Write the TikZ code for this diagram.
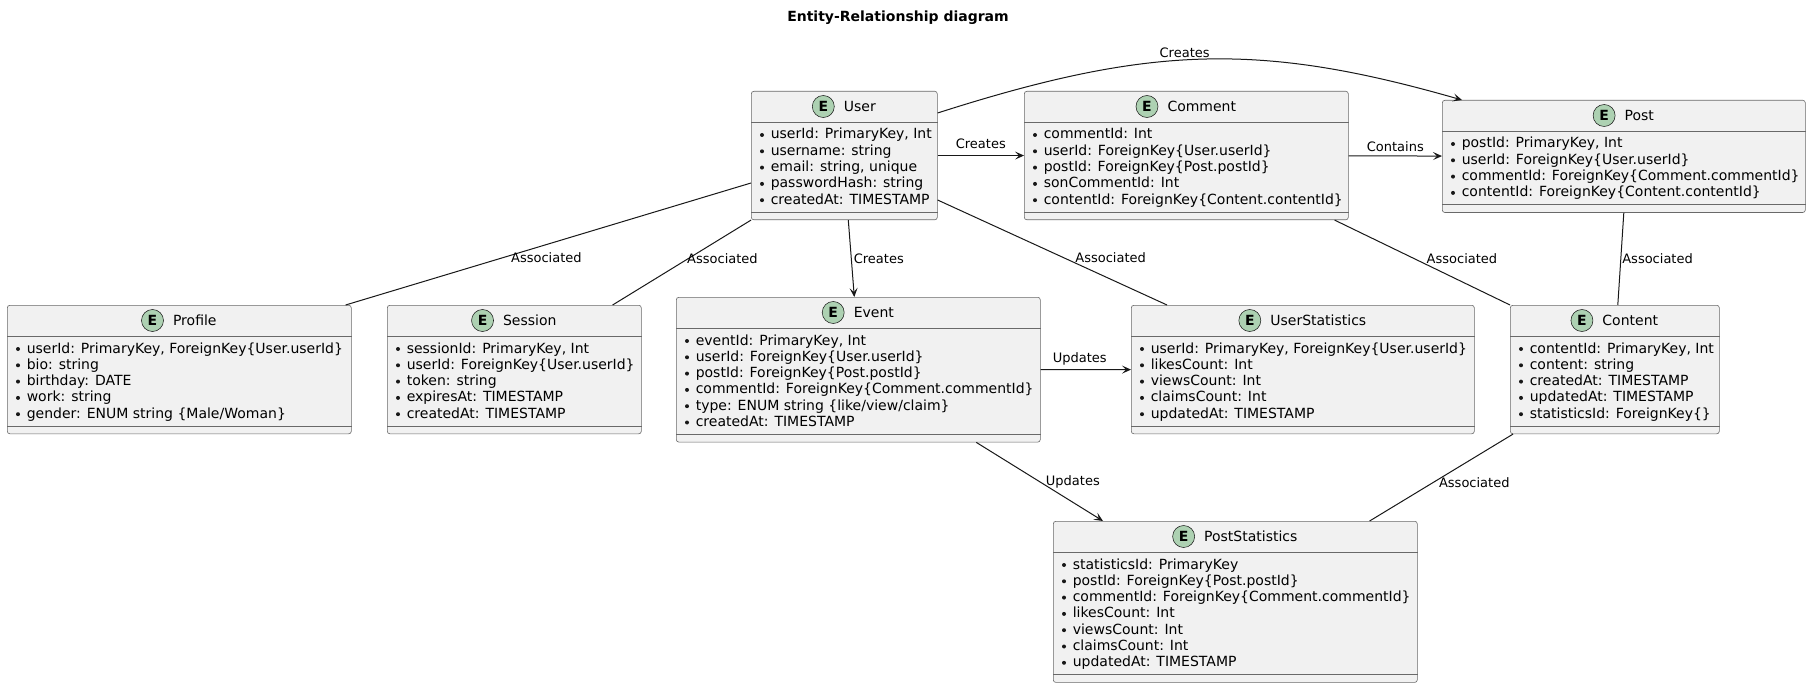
\documentclass[tikz,border=0pt]{standalone}
\usepackage{fontspec}
\setmainfont{DejaVu Sans}
\usetikzlibrary{calc, positioning, arrows.meta}

\definecolor{entfill}{HTML}{F1F1F1}
\definecolor{ink}{HTML}{181818}
\definecolor{entgreen}{HTML}{ADD1B2}

\tikzset{
	entbox/.style={draw=ink!65, fill=entfill, line width=.45pt, rounded corners=1.9pt, inner sep=0pt},
	entline/.style={draw=ink!65, line width=.45pt},
	entcirc/.style={circle, draw=ink, fill=entgreen, line width=.4pt, minimum size=16.5pt, inner sep=0pt, font=\fontsize{10.5}{12}\selectfont\bfseries},
	enttitle/.style={inner sep=0pt, font=\fontsize{10.5}{12}\selectfont},
	entfield/.style={inner sep=0pt, font=\fontsize{10.5}{12.2}\selectfont},
	rel/.style={draw=ink, line width=.75pt},
	lbl/.style={inner sep=0pt, font=\fontsize{9.75}{11}\selectfont}
}

% name, left, top, width, rows, title, fields  (all in px)
\newcommand{\entity}[7]{%
	\node[entbox, anchor=north west, minimum width=#4*0.75pt,
		minimum height=(47+16.3*#5)*0.75pt] (#1) at (#2,#3) {};
	\draw[entline] ($(#1.north west)+(0,31)$) -- ($(#1.north east)+(0,31)$);
	\draw[entline] ($(#1.south west)+(0,-8)$) -- ($(#1.south east)+(0,-8)$);
	\node[enttitle] (#1-t) at ($(#1.north)+(15.5,15.5)$) {#6};
	\node[entcirc, left=6.75pt of #1-t] (#1-c) {E};
	\foreach \f [count=\i] in {#7} {
		\fill[ink] ($(#1.north west)+(11,{44+16.3*(\i-1)})$) circle (1.5pt);
		\node[entfield, anchor=base west] (#1-f\i) at ($(#1.north west)+(19.5,{48+16.3*(\i-1)})$) {\f};
	}
}

\begin{document}
\begin{tikzpicture}[x=0.75pt, y=-0.75pt, >={Stealth[length=6.75pt, width=6pt, inset=3pt]}]
	% Page
	\fill[white] (0,0) rectangle (1811,688);
	\useasboundingbox (0,0) rectangle (1811,688);

	% Title
	\node[inner sep=0pt, font=\fontsize{10.5}{12}\selectfont\bfseries] (title) at (898,18) {Entity-Relationship diagram};

	% Top row
	\entity{User}{751}{91}{186}{5}{User}{{userId: PrimaryKey, Int}, {username: string}, {email: string, unique}, {passwordHash: string}, {createdAt: TIMESTAMP}}
	\entity{Comment}{1024}{91}{324}{5}{Comment}{{commentId: Int}, {userId: ForeignKey\{User.userId\}}, {postId: ForeignKey\{Post.postId\}}, {sonCommentId: Int}, {contentId: ForeignKey\{Content.contentId\}}}
	\entity{Post}{1442}{100}{363}{4}{Post}{{postId: PrimaryKey, Int}, {userId: ForeignKey\{User.userId\}}, {commentId: ForeignKey\{Comment.commentId\}}, {contentId: ForeignKey\{Content.contentId\}}}

	% Middle row
	\entity{Profile}{7}{305}{344}{5}{Profile}{{userId: PrimaryKey, ForeignKey\{User.userId\}}, {bio: string}, {birthday: DATE}, {work: string}, {gender: ENUM string \{Male/Woman\}}}
	\entity{Session}{387}{305}{254}{5}{Session}{{sessionId: PrimaryKey, Int}, {userId: ForeignKey\{User.userId\}}, {token: string}, {expiresAt: TIMESTAMP}, {createdAt: TIMESTAMP}}
	\entity{Event}{676}{297}{364}{6}{Event}{{eventId: PrimaryKey, Int}, {userId: ForeignKey\{User.userId\}}, {postId: ForeignKey\{Post.postId\}}, {commentId: ForeignKey\{Comment.commentId\}}, {type: ENUM string \{like/view/claim\}}, {createdAt: TIMESTAMP}}
	\entity{UserStatistics}{1131}{305}{343}{5}{UserStatistics}{{userId: PrimaryKey, ForeignKey\{User.userId\}}, {likesCount: Int}, {viewsCount: Int}, {claimsCount: Int}, {updatedAt: TIMESTAMP}}
	\entity{Content}{1510}{305}{209}{5}{Content}{{contentId: PrimaryKey, Int}, {content: string}, {createdAt: TIMESTAMP}, {updatedAt: TIMESTAMP}, {statisticsId: ForeignKey\{\}}}

	% Bottom row
	\entity{PostStatistics}{1053}{521}{364}{7}{PostStatistics}{{statisticsId: PrimaryKey}, {postId: ForeignKey\{Post.postId\}}, {commentId: ForeignKey\{Comment.commentId\}}, {likesCount: Int}, {viewsCount: Int}, {claimsCount: Int}, {updatedAt: TIMESTAMP}}

	% Relations from User
	\draw[rel, ->] ($(User.north east)+(0,22)$) .. controls (1150,45) and (1260,42) .. ($(Post.north west)+(20,0)$)
		node[lbl, pos=.46, above=1.5pt] {Creates};
	\draw[rel, ->] (User) -- (Comment) node[lbl, midway, above=4.5pt] {Creates};
	\draw[rel] ($(User.north west)+(0,92)$) -- ($(Profile.north east)+(-6,0)$)
		node[lbl, pos=.615, anchor=west, xshift=6.75pt] {Associated};
	\draw[rel] (User.south west) -- ($(Session.north east)+(-29,0)$)
		node[lbl, pos=.45, anchor=west, xshift=-1.5pt] {Associated};
	\draw[rel, ->] ($(User.south)+(4,0)$) -- ($(Event.north)+(-4,0)$)
		node[lbl, pos=.5, anchor=west, xshift=1.5pt] {Creates};
	\draw[rel] ($(User.north east)+(0,109)$) -- ($(UserStatistics.north west)+(36,0)$)
		node[lbl, pos=.552, anchor=west, xshift=8pt] {Associated};

	% Relations between the rest
	\draw[rel, ->] (Comment) -- (Post) node[lbl, midway, above=3pt] {Contains};
	\draw[rel] ($(Comment.south east)+(-14,0)$) -- (Content.north west)
		node[lbl, pos=.45, anchor=west, xshift=9.5pt] {Associated};
	\draw[rel] (Post.south) -- ($(Content.north)+(3,0)$)
		node[lbl, pos=.495, anchor=west, xshift=.75pt] {Associated};
	\draw[rel, ->] (Event) -- (UserStatistics) node[lbl, midway, above=3pt, xshift=-4.5pt] {Updates};
	\draw[rel, ->] ($(Event.south)+(118,0)$) -- ($(PostStatistics.north west)+(50,0)$)
		node[lbl, pos=.506, anchor=west, xshift=3.75pt] {Updates};
	\draw[rel] ($(Content.south west)+(3,0)$) -- ($(PostStatistics.north east)+(-48,0)$)
		node[lbl, pos=.554, anchor=west, xshift=3.75pt] {Associated};
\end{tikzpicture}
\end{document}
